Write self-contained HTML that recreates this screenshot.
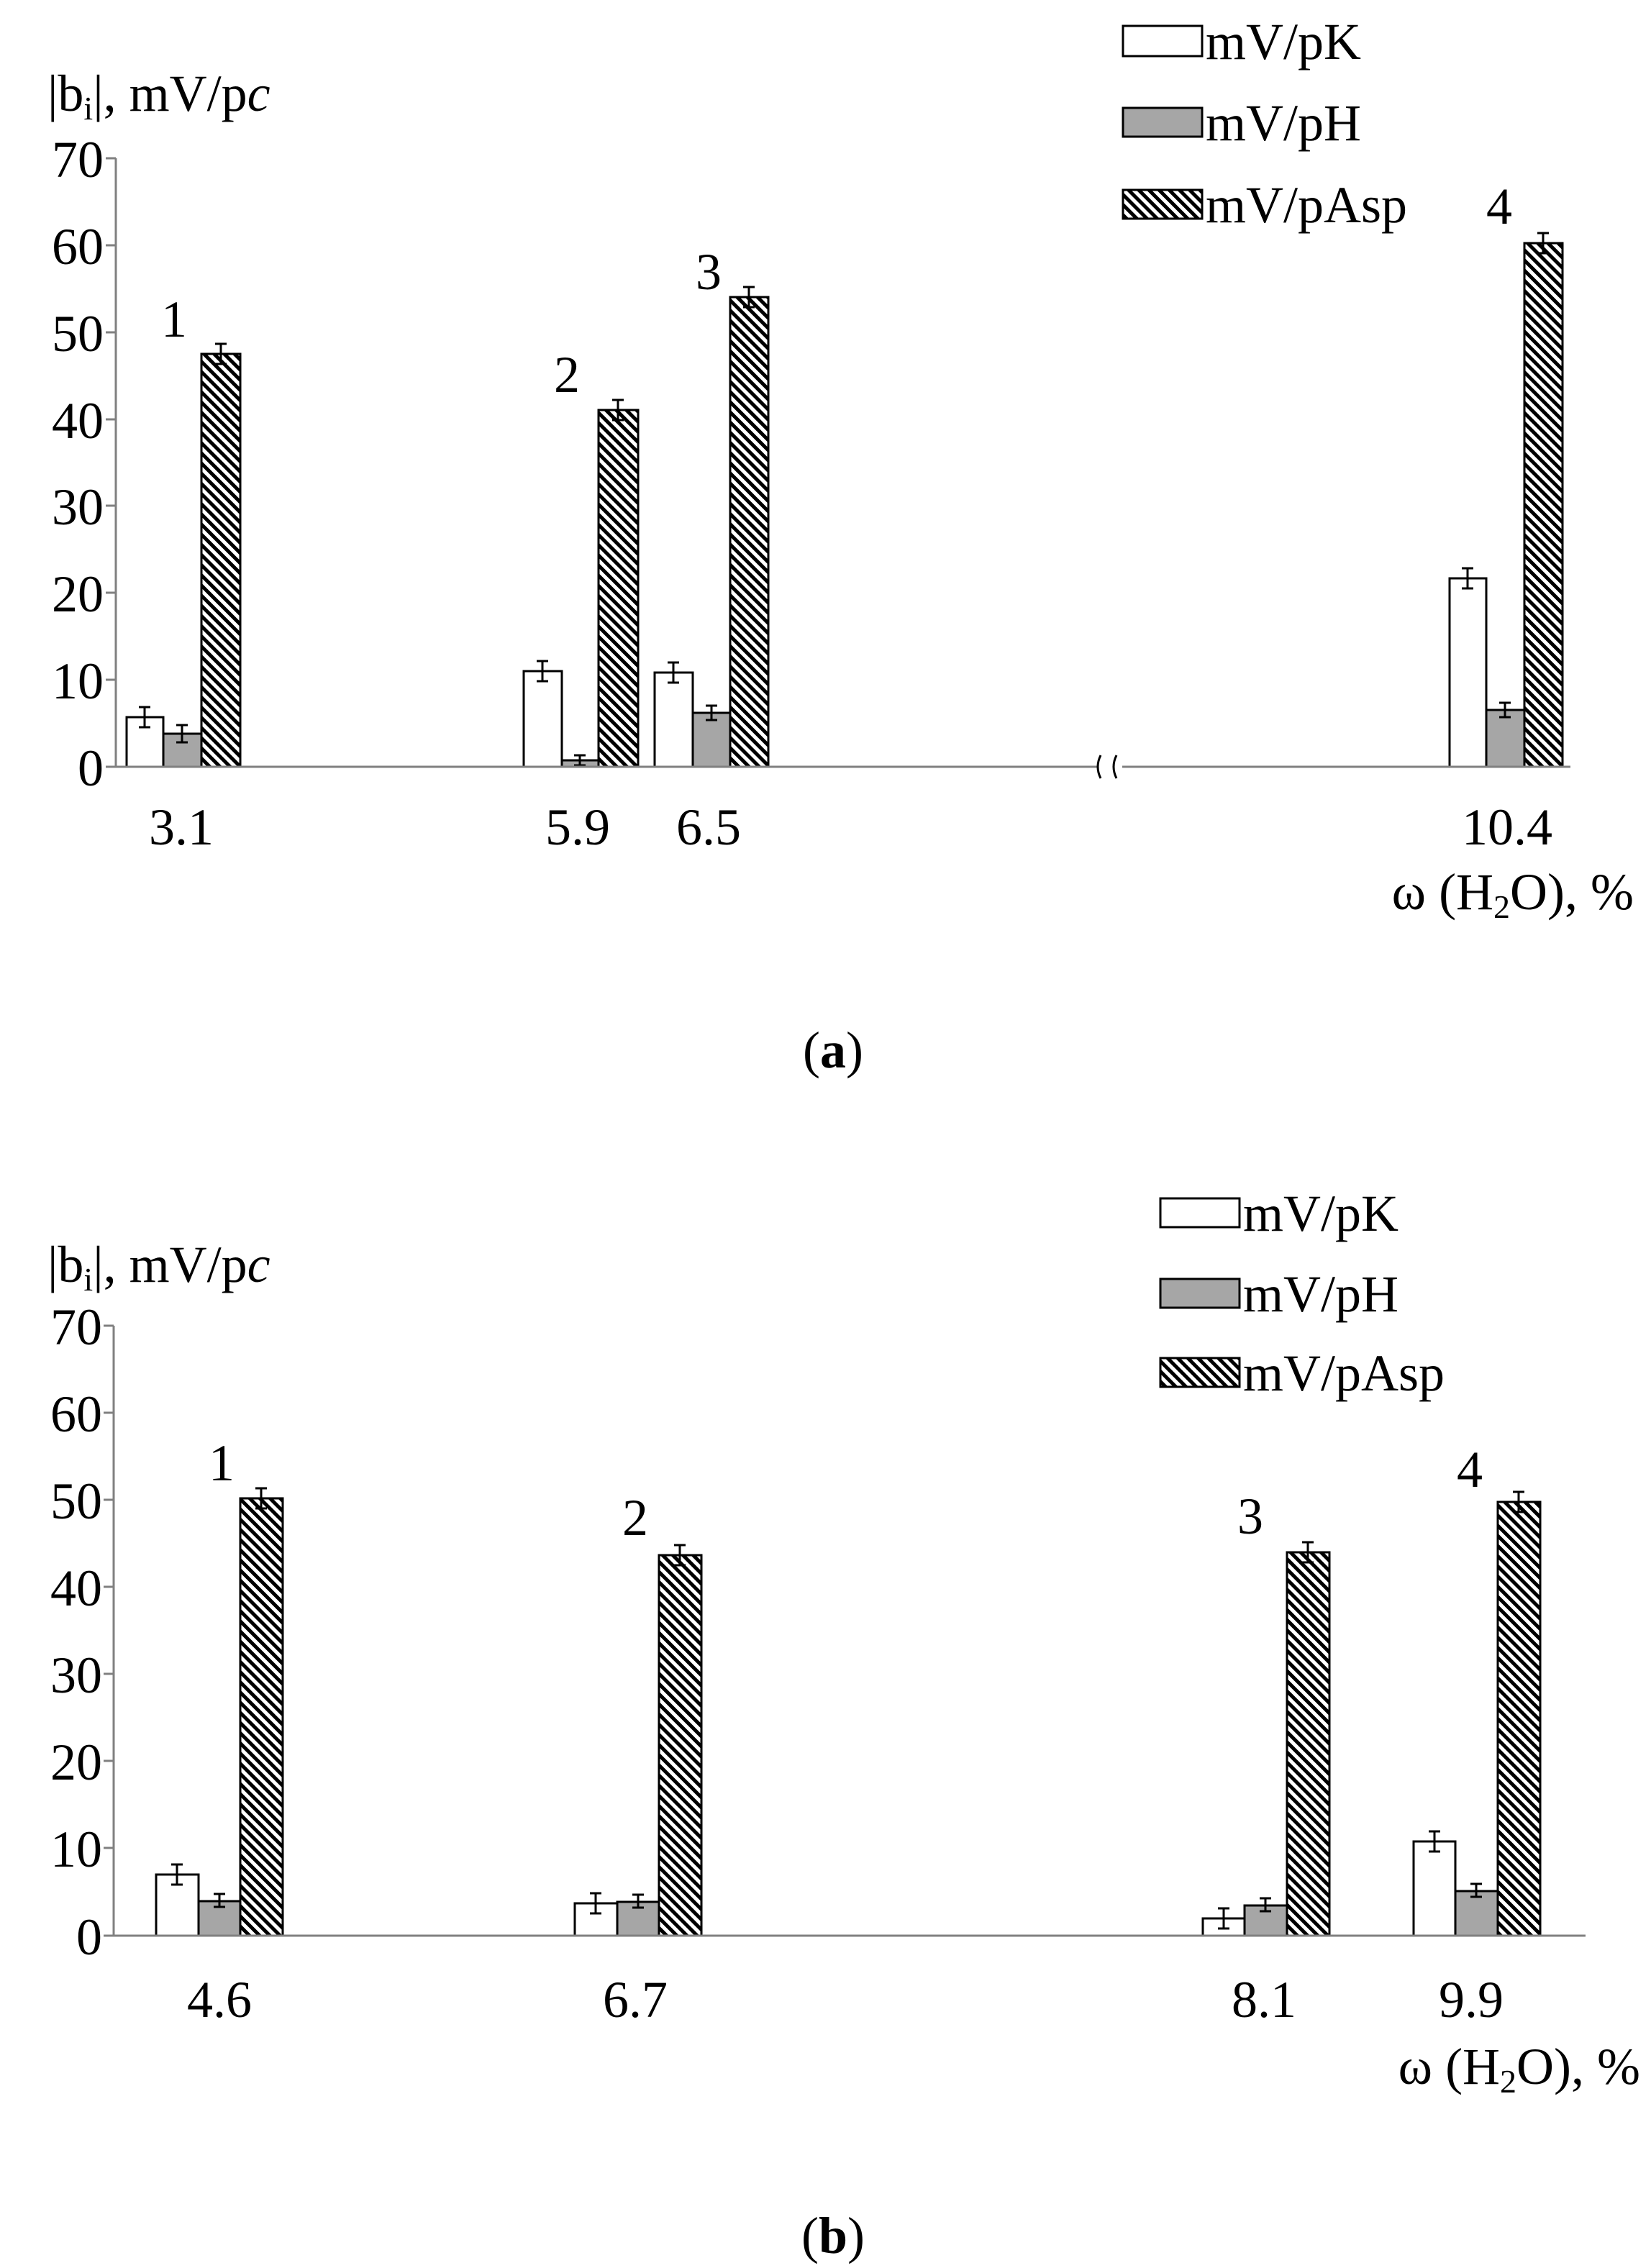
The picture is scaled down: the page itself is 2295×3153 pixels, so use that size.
<!DOCTYPE html>
<html><head><meta charset="utf-8"><style>
html,body{margin:0;padding:0;background:#fff;}
svg text{font-family:"Liberation Serif",serif;font-size:72px;fill:#000;}
</style></head><body>
<svg width="2295" height="3148" viewBox="0 0 2295 3148" xmlns="http://www.w3.org/2000/svg">
<defs>
<pattern id="h" patternUnits="userSpaceOnUse" width="10" height="10" patternTransform="rotate(-45)">
<rect width="10" height="10" fill="#fff"/><rect x="0" y="0" width="5" height="10" fill="#000"/>
</pattern>
</defs>
<g stroke="#000" stroke-width="3">
<rect x="176" y="997" width="51" height="69" fill="#fff"/>
<rect x="227" y="1020" width="53" height="46" fill="#a6a6a6"/>
<rect x="280" y="492" width="54" height="574" fill="url(#h)"/>
<rect x="728" y="933" width="53" height="133" fill="#fff"/>
<rect x="781" y="1057" width="51" height="9" fill="#a6a6a6"/>
<rect x="832" y="570" width="55" height="496" fill="url(#h)"/>
<rect x="910" y="935" width="53" height="131" fill="#fff"/>
<rect x="963" y="991" width="52" height="75" fill="#a6a6a6"/>
<rect x="1015" y="413" width="53" height="653" fill="url(#h)"/>
<rect x="2015" y="804" width="51" height="262" fill="#fff"/>
<rect x="2066" y="987" width="53" height="79" fill="#a6a6a6"/>
<rect x="2119" y="338" width="53" height="728" fill="url(#h)"/>
<rect x="217" y="2606" width="59" height="85" fill="#fff"/>
<rect x="276" y="2643" width="58" height="48" fill="#a6a6a6"/>
<rect x="334" y="2083" width="59" height="608" fill="url(#h)"/>
<rect x="799" y="2646" width="59" height="45" fill="#fff"/>
<rect x="858" y="2644" width="58" height="47" fill="#a6a6a6"/>
<rect x="916" y="2162" width="59" height="529" fill="url(#h)"/>
<rect x="1672" y="2667" width="58" height="24" fill="#fff"/>
<rect x="1730" y="2649" width="59" height="42" fill="#a6a6a6"/>
<rect x="1789" y="2158" width="59" height="533" fill="url(#h)"/>
<rect x="1965" y="2560" width="58" height="131" fill="#fff"/>
<rect x="2023" y="2629" width="59" height="62" fill="#a6a6a6"/>
<rect x="2082" y="2088" width="59" height="603" fill="url(#h)"/>
<rect x="1561" y="36" width="110" height="42" fill="#fff"/>
<rect x="1561" y="150" width="110" height="40" fill="#a6a6a6"/>
<rect x="1561" y="264" width="110" height="40" fill="url(#h)"/>
<rect x="1613" y="1666" width="110" height="40" fill="#fff"/>
<rect x="1613" y="1778" width="110" height="40" fill="#a6a6a6"/>
<rect x="1613" y="1888" width="110" height="40" fill="url(#h)"/>
</g>
<g stroke="#000" stroke-width="3" fill="none">
<path d="M201 983v28M193 983h16M193 1011h16 M253 1008v24M245 1008h16M245 1032h16 M307 478v28M299 478h16M299 506h16
M754 919v28M746 919h16M746 947h16 M806 1050v14M798 1050h16M798 1064h16 M859 556v28M851 556h16M851 584h16
M936 921v28M928 921h16M928 949h16 M989 981v20M981 981h16M981 1001h16 M1041 399v28M1033 399h16M1033 427h16
M2040 790v28M2032 790h16M2032 818h16 M2092 977v20M2084 977h16M2084 997h16 M2145 324v28M2137 324h16M2137 352h16
M246 2592v28M238 2592h16M238 2620h16 M305 2633v18M297 2633h16M297 2651h16 M363 2069v28M355 2069h16M355 2097h16
M828 2632v28M820 2632h16M820 2660h16 M887 2634v18M879 2634h16M879 2652h16 M945 2148v28M937 2148h16M937 2176h16
M1701 2653v28M1693 2653h16M1693 2681h16 M1759 2639v18M1751 2639h16M1751 2657h16 M1818 2144v28M1810 2144h16M1810 2172h16
M1994 2546v28M1986 2546h16M1986 2574h16 M2052 2619v18M2044 2619h16M2044 2637h16 M2111 2074v28M2103 2074h16M2103 2102h16"/>
</g>
<g stroke="#808080" stroke-width="3" fill="none">
<path d="M161 220V1066H1526 M1560 1066H2183"/>
<path d="M147 220h14M147 341h14M147 462h14M147 583h14M147 703h14M147 824h14M147 945h14M147 1066h14"/>
<path d="M158 1843V2691H2204"/>
<path d="M144 1843h14M144 1964h14M144 2085h14M144 2206h14M144 2327h14M144 2448h14M144 2569h14M144 2691h14"/>
</g>
<path d="M1530 1050q-8 16 0 32 M1552 1050q-8 16 0 32" stroke="#000" stroke-width="3" fill="none"/>
<g text-anchor="end">
<text x="144" y="246">70</text><text x="144" y="367">60</text><text x="144" y="488">50</text><text x="144" y="609">40</text>
<text x="144" y="729">30</text><text x="144" y="850">20</text><text x="144" y="971">10</text><text x="144" y="1092">0</text>
<text x="142" y="1869">70</text><text x="142" y="1990">60</text><text x="142" y="2111">50</text><text x="142" y="2232">40</text>
<text x="142" y="2353">30</text><text x="142" y="2474">20</text><text x="142" y="2595">10</text><text x="142" y="2717">0</text>
</g>
<text x="66" y="154">|b<tspan font-size="46" dy="12">i</tspan><tspan dy="-12">|, mV/p</tspan><tspan font-style="italic">c</tspan></text>
<text x="66" y="1782">|b<tspan font-size="46" dy="12">i</tspan><tspan dy="-12">|, mV/p</tspan><tspan font-style="italic">c</tspan></text>
<g text-anchor="middle">
<text x="242" y="468">1</text><text x="788" y="545">2</text><text x="985" y="402">3</text><text x="2084" y="311">4</text>
<text x="252" y="1174">3.1</text><text x="803" y="1174">5.9</text><text x="985" y="1174">6.5</text><text x="2095" y="1174">10.4</text>
<text x="1158" y="1484">(<tspan font-weight="bold">a</tspan>)</text>
<text x="308" y="2058">1</text><text x="883" y="2134">2</text><text x="1738" y="2132">3</text><text x="2043" y="2067">4</text>
<text x="305" y="2804">4.6</text><text x="883" y="2804">6.7</text><text x="1757" y="2804">8.1</text><text x="2045" y="2804">9.9</text>
<text x="1158" y="3132">(<tspan font-weight="bold">b</tspan>)</text>
</g>
<g text-anchor="end">
<text x="2271" y="1264">ω (H<tspan font-size="46" dy="12">2</tspan><tspan dy="-12">O), %</tspan></text>
<text x="2280" y="2897">ω (H<tspan font-size="46" dy="12">2</tspan><tspan dy="-12">O), %</tspan></text>
</g>
<text x="1676" y="82">mV/pK</text><text x="1676" y="195">mV/pH</text><text x="1676" y="309">mV/pAsp</text>
<text x="1728" y="1711">mV/pK</text><text x="1728" y="1823">mV/pH</text><text x="1728" y="1933">mV/pAsp</text>
</svg>
</body></html>
